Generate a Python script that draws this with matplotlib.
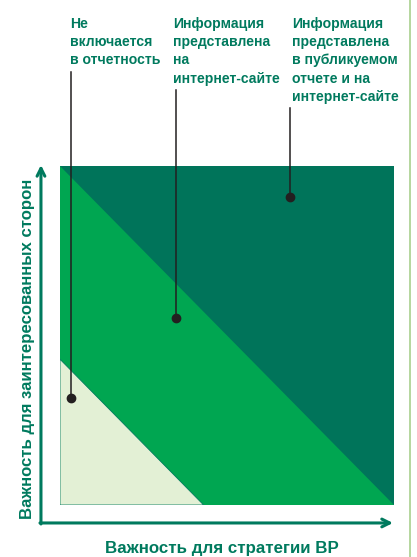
import matplotlib
matplotlib.use('Agg')
from matplotlib import pyplot as plt
from matplotlib.patches import Polygon

plt.rcParams['font.family'] = ['Liberation Sans', 'DejaVu Sans']

# matrix zones in units of the two importance axes (0..1)
light_limit = 0.43      # x + y below this -> not reported
dark_limit = 1.0        # x + y above this -> report + website

labels = ['Не\nвключается\nв отчетность',
          'Информация\nпредставлена\nна\nинтернет-сайте',
          'Информация\nпредставлена\nв публикуемом\nотчете и на\nинтернет-сайте']
label_x = [0.030, 0.338, 0.695]
dot_x = [0.033, 0.347, 0.689]
dot_y = [0.316, 0.552, 0.909]
line_top = [1.277, 1.224, 1.171]

xlabel = 'Важность для стратегии BP'
ylabel = 'Важность для заинтересованных сторон'

dark = '#00745A'
mid = '#00A651'
light = '#E3F0D5'
teal = '#007A5E'

W, H = 417, 557
fig = plt.figure(figsize=(W / 100, H / 100), dpi=100)
ax = fig.add_axes([60 / W, (H - 505) / H, 334 / W, 339 / H])
ax.set_xlim(0, 1)
ax.set_ylim(0, 1)
ax.axis('off')

ax.add_patch(Polygon([(0, 0), (1, 0), (1, 1), (0, 1)], closed=True,
                     facecolor=mid, edgecolor='none'))
ax.add_patch(Polygon([(0, dark_limit), (1, 1), (1, dark_limit - 1)], closed=True,
                     facecolor=dark, edgecolor='none'))
ax.add_patch(Polygon([(0, 0), (light_limit, 0), (0, light_limit)], closed=True,
                     facecolor=light, edgecolor=teal, linewidth=0.6))

# axes arrows
ax.annotate('', xy=(0.997, -0.053), xytext=(-0.06, -0.053),
            arrowprops=dict(arrowstyle='->', color=teal, lw=2.2,
                            mutation_scale=14, shrinkA=0, shrinkB=0),
            annotation_clip=False)
ax.annotate('', xy=(-0.057, 1.003), xytext=(-0.057, -0.056),
            arrowprops=dict(arrowstyle='->', color=teal, lw=2.2,
                            mutation_scale=14, shrinkA=0, shrinkB=0),
            annotation_clip=False)

ax.text(0.485, -0.127, xlabel, transform=ax.transAxes, ha='center', va='center',
        fontsize=12.2, fontweight='bold', color=teal)
ax.text(-0.096, 0.46, ylabel, transform=ax.transAxes, ha='center', va='center',
        rotation=90, fontsize=12.1, fontweight='bold', color=teal)

# column labels with leader lines
for lab, lx, dx, dy, top in zip(labels, label_x, dot_x, dot_y, line_top):
    ax.text(lx, 1.441, lab, ha='left', va='top', fontsize=10.1, fontweight='bold',
            color=teal, linespacing=1.4, clip_on=False)
    ax.plot([dx, dx], [top, dy], color='#231F20', lw=1.1, clip_on=False)
    ax.plot(dx, dy, 'o', color='#231F20', ms=6, clip_on=False)

# thin frame line on the right edge of the page
fig.add_artist(plt.Line2D([410 / W, 410 / W], [0, 1], color='#A8D08D', lw=1.2))

fig.savefig('out.png', dpi=100)
